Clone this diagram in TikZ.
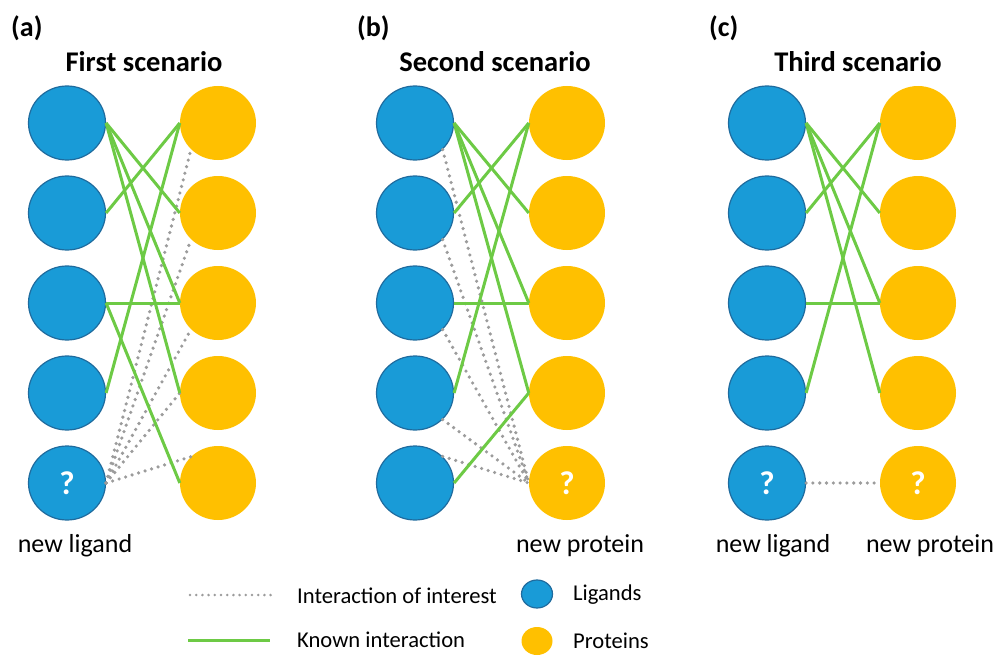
\documentclass[tikz,border=0pt]{standalone}
\usepackage{fontspec}
\usetikzlibrary{shapes.geometric}
\setmainfont{Carlito}
\definecolor{ligblue}{HTML}{199BD7}
\definecolor{ligedge}{HTML}{1F6B9E}
\definecolor{protyellow}{HTML}{FFC000}
\definecolor{knowngreen}{HTML}{6DCA45}
\definecolor{dotgray}{HTML}{9C9C9C}
\begin{document}
\begin{tikzpicture}[x=1pt,y=-1pt,
  lig/.style={ellipse,minimum width=77pt,minimum height=74pt,inner sep=0pt,fill=ligblue,draw=ligedge,line width=1.2pt,text=white,font=\fontsize{33}{33}\selectfont\bfseries},
  prot/.style={ellipse,minimum width=76pt,minimum height=74pt,inner sep=0pt,fill=protyellow,text=white,font=\fontsize{33}{33}\selectfont\bfseries},
  known/.style={draw=knowngreen,line width=3pt},
  interest/.style={draw=dotgray,line width=3.6pt,line cap=round,dash pattern=on 0pt off 6.8pt},
  panellabel/.style={font=\fontsize{28}{28}\selectfont\bfseries,anchor=west,inner sep=0pt},
  title/.style={font=\fontsize{28.5}{28.5}\selectfont\bfseries,inner sep=0pt},
  sublabel/.style={font=\fontsize{26}{26}\selectfont,inner sep=0pt},
  legtext/.style={font=\fontsize{22.6}{22.6}\selectfont,anchor=west,inner sep=0pt},
  legdot/.style={ellipse,minimum width=31pt,minimum height=28pt,inner sep=0pt}
]
\useasboundingbox (0,0) rectangle (995,666);

% panel nodes
\foreach \p/\lx/\px in {a/67/218,b/415/567,c/767/918}{
  \foreach \i/\y in {1/123,2/213,3/303,4/393}{
    \node[lig] (\p L\i) at (\lx,\y) {};
    \node[prot] (\p P\i) at (\px,\y) {};
  }
}
\node[lig] (aL5) at (67,483) {?};
\node[prot] (aP5) at (218,483) {};
\node[lig] (bL5) at (415,483) {};
\node[prot] (bP5) at (567,483) {?};
\node[lig] (cL5) at (767,483) {?};
\node[prot] (cP5) at (918,483) {?};

% texts
\node[panellabel] (la) at (11,28) {(a)};
\node[panellabel] (lb) at (357,28) {(b)};
\node[panellabel] (lc) at (709,28) {(c)};
\node[title] (ta) at (144,62) {First scenario};
\node[title] (tb) at (495,62) {Second scenario};
\node[title] (tc) at (858,62) {Third scenario};
\node[sublabel] (na) at (75,546) {new ligand};
\node[sublabel] (nb) at (580,546) {new protein};
\node[sublabel] (nc1) at (773,546) {new ligand};
\node[sublabel] (nc2) at (930,546) {new protein};

% panel (a) edges
\foreach \s in {P1,P2,P3}{\draw[interest] (aL5.east) -- (a\s.south west);}
\draw[interest] (aL5.east) -- (aP4.west);
\draw[interest] (aL5.east) -- (aP5.north west);
\draw[known] (aL1.east) -- (aP2.west);
\draw[known] (aL1.east) -- (aP3.west);
\draw[known] (aL1.east) -- (aP4.west);
\draw[known] (aL2.east) -- (aP1.west);
\draw[known] (aL4.east) -- (aP1.west);
\draw[known] (aL3.east) -- (aP3.west);
\draw[known] (aL3.east) -- (aP5.west);

% panel (b) edges
\foreach \s in {L1,L2,L3,L4}{\draw[interest] (b\s.south east) -- (bP5.west);}
\draw[interest] (bL5.north east) -- (bP5.west);
\draw[known] (bL1.east) -- (bP2.west);
\draw[known] (bL1.east) -- (bP3.west);
\draw[known] (bL1.east) -- (bP4.west);
\draw[known] (bL2.east) -- (bP1.west);
\draw[known] (bL4.east) -- (bP1.west);
\draw[known] (bL3.east) -- (bP3.west);
\draw[known] (bL5.east) -- (bP4.west);

% panel (c) edges
\draw[interest] (cL5.east) -- (cP5.west);
\draw[known] (cL1.east) -- (cP2.west);
\draw[known] (cL1.east) -- (cP3.west);
\draw[known] (cL1.east) -- (cP4.west);
\draw[known] (cL2.east) -- (cP1.west);
\draw[known] (cL4.east) -- (cP1.west);
\draw[known] (cL3.east) -- (cP3.west);

% legend
\coordinate (d1) at (190,595);
\coordinate (d2) at (272,595);
\coordinate (g1) at (188,640);
\coordinate (g2) at (270,640);
\draw[interest,line width=2.8pt,dash pattern=on 0pt off 6.2pt] (d1) -- (d2);
\draw[known] (g1) -- (g2);
\node[legtext] (t1) at (297,596) {Interaction of interest};
\node[legtext] (t2) at (297,640) {Known interaction};
\node[legdot,fill=ligblue,draw=ligedge,line width=1.2pt] (e1) at (537,594) {};
\node[legdot,fill=protyellow] (e2) at (537,641) {};
\node[legtext] (t3) at (573,595) {Ligands};
\node[legtext] (t4) at (573,641) {Proteins};
\end{tikzpicture}
\end{document}
